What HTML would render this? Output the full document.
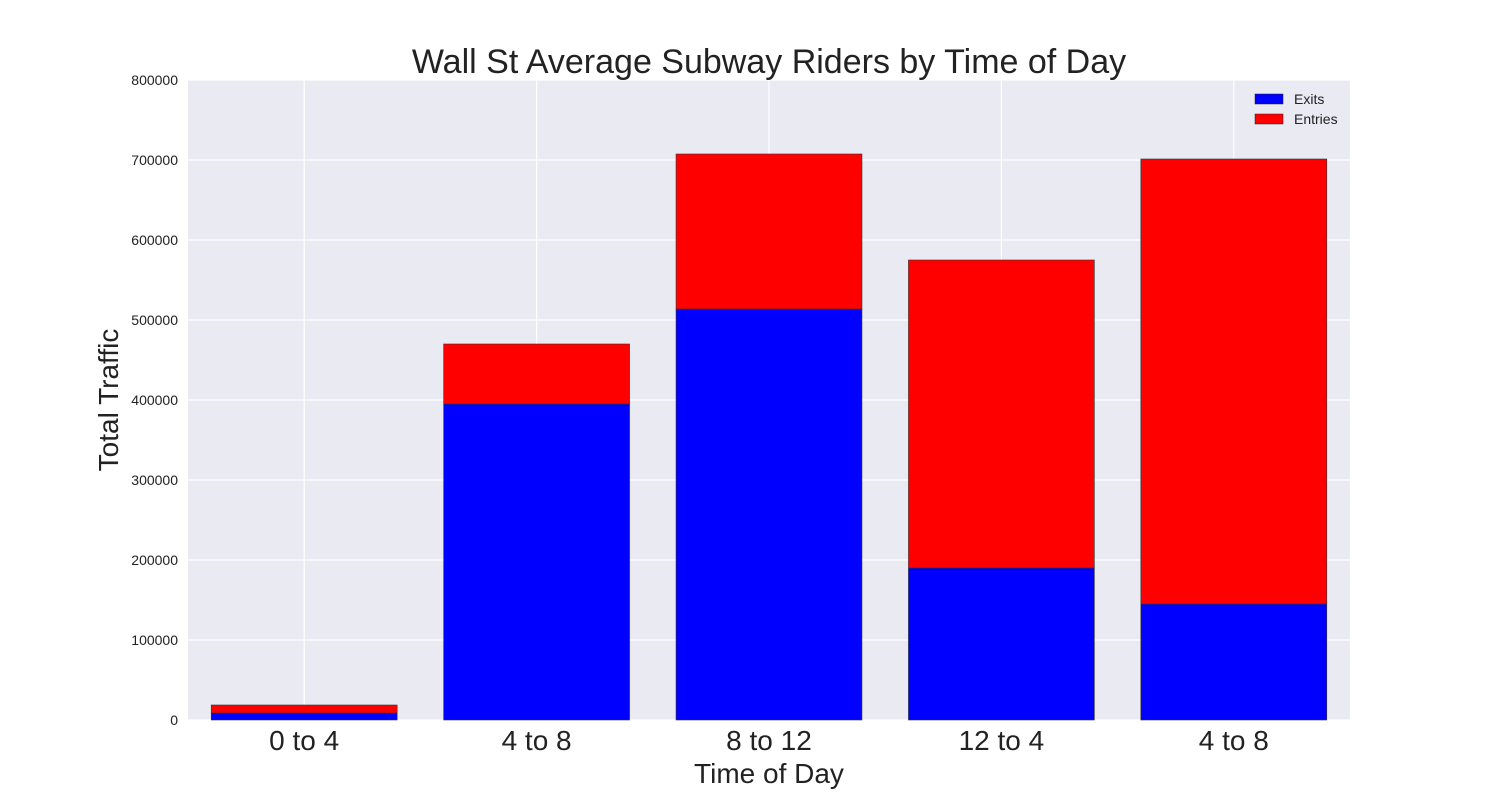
<!DOCTYPE html>
<html><head><meta charset="utf-8"><style>
body{margin:0;background:#fff;font-family:"Liberation Sans",sans-serif;}
svg text{font-family:"Liberation Sans",sans-serif;fill:#222;}
</style></head><body>
<svg width="1500" height="800" xmlns="http://www.w3.org/2000/svg">
<rect x="188" y="80" width="1162" height="640" fill="#eaeaf2"/>
<g id="grid"></g><g id="bars"></g><g id="ticks"></g>
<text x="769" y="73" font-size="34" text-anchor="middle">Wall St Average Subway Riders by Time of Day</text>
<text x="769" y="783" font-size="28" text-anchor="middle">Time of Day</text>
<text transform="translate(118,400) rotate(-90)" font-size="28" text-anchor="middle">Total Traffic</text>
<g>
<rect x="1255" y="94" width="28" height="10" fill="#0000ff" stroke="#222" stroke-width="0.5"/>
<text x="1294" y="104" font-size="14">Exits</text>
<rect x="1255" y="114" width="28" height="10" fill="#ff0000" stroke="#222" stroke-width="0.5"/>
<text x="1294" y="124" font-size="14">Entries</text>
</g>
</svg>
<script>
const categories=["0 to 4","4 to 8","8 to 12","12 to 4","4 to 8"];
const exits=[8750,395000,513750,190000,145000];
const entries=[10000,75000,193750,385000,556250];
const yTicks=[0,100000,200000,300000,400000,500000,600000,700000,800000];
const NS="http://www.w3.org/2000/svg";
const x0=188,x1=1350,yTop=80,yBot=720,yMax=800000;
const band=(x1-x0)/categories.length;
const xc=i=>x0+(i+0.5)*band;
const y=v=>yBot-v/yMax*(yBot-yTop);
function mk(tag,attrs,parent){const e=document.createElementNS(NS,tag);for(const k in attrs)e.setAttribute(k,attrs[k]);parent.appendChild(e);return e;}
const grid=document.getElementById('grid'),bars=document.getElementById('bars'),ticks=document.getElementById('ticks');
yTicks.forEach(t=>{
 const l=mk('line',{x1:x0,x2:x1,y1:y(t),y2:y(t),stroke:'#fff','stroke-width':1.2},grid);
 
 
 const tx=mk('text',{x:178,y:y(t)+5,'font-size':14,'text-anchor':'end'},ticks);
 tx.textContent=t;
 
 
});
categories.forEach((c,i)=>{
 const l=mk('line',{x1:xc(i),x2:xc(i),y1:yTop,y2:yBot,stroke:'#fff','stroke-width':1.2},grid);
 
 
 const w=band*0.8,bx=xc(i)-w/2;
 const b1=mk('rect',{x:bx,y:y(exits[i]),width:w,height:yBot-y(exits[i]),fill:'#0000ff',stroke:'#333','stroke-width':0.6},bars);
 
 
 const tot=exits[i]+entries[i];
 const b2=mk('rect',{x:bx,y:y(tot),width:w,height:y(exits[i])-y(tot),fill:'#ff0000',stroke:'#333','stroke-width':0.6},bars);
 
 
 const tx=mk('text',{x:xc(i),y:750,'font-size':28,'text-anchor':'middle'},ticks);
 tx.textContent=c;
 
 
});
</script>
</body></html>
